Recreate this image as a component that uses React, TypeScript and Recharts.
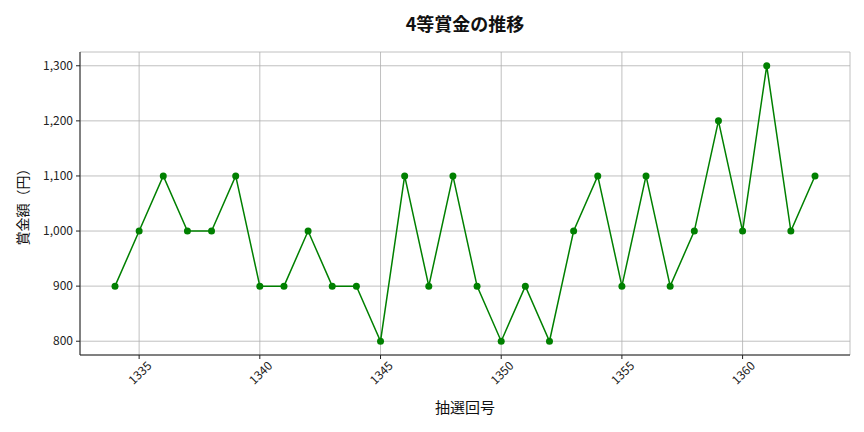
import { CartesianGrid, Label, Line, LineChart, XAxis, YAxis } from "recharts"

const draws = [1334, 1335, 1336, 1337, 1338, 1339, 1340, 1341, 1342, 1343, 1344, 1345, 1346, 1347, 1348, 1349, 1350, 1351, 1352, 1353, 1354, 1355, 1356, 1357, 1358, 1359, 1360, 1361, 1362, 1363]
const prizes = [900, 1000, 1100, 1000, 1000, 1100, 900, 900, 1000, 900, 900, 800, 1100, 900, 1100, 900, 800, 900, 800, 1000, 1100, 900, 1100, 900, 1000, 1200, 1000, 1300, 1000, 1100]
const xTicks = [1335, 1340, 1345, 1350, 1355, 1360]
const yTicks = [800, 900, 1000, 1100, 1200, 1300]

const FONT = "'Noto Sans CJK JP', 'Noto Sans', sans-serif"
const INK = "#222"

const data = draws.map((d, i) => ({ draw: d, prize: prizes[i] }))

function RotatedTick({ x, y, payload }: any) {
  return (
    <g transform={`translate(${x},${y + 11})`}>
      <text
        transform="rotate(-45)"
        textAnchor="middle"
        dominantBaseline="central"
        fontSize={12}
        fontFamily={FONT}
        fill={INK}
      >
        {payload.value}
      </text>
    </g>
  )
}

export default function App() {
  return (
    <div style={{ position: "absolute", left: 0, top: 0, width: 864, height: 432, background: "#fff" }}>
      <div
        style={{
          position: "absolute",
          left: 80,
          width: 770,
          top: 10,
          textAlign: "center",
          fontFamily: FONT,
          fontWeight: 700,
          fontSize: 18,
          color: "#111",
        }}
      >
        4等賞金の推移
      </div>
      <LineChart width={864} height={432} data={data} margin={{ top: 52, right: 14, bottom: 27, left: 20 }}>
        <CartesianGrid stroke="#b0b0b0" strokeWidth={0.8} />
        <XAxis
          dataKey="draw"
          type="number"
          domain={[1332.55, 1364.45]}
          ticks={xTicks}
          allowDataOverflow
          height={50}
          tickSize={4}
          tickMargin={2}
          stroke={INK}
          tick={<RotatedTick />}
        >
          <Label value="抽選回号" position="insideBottom" offset={-8} style={{ fontFamily: FONT, fontSize: 15, fill: "#111" }} />
        </XAxis>
        <XAxis xAxisId="top" orientation="top" dataKey="draw" type="number" domain={[1332.55, 1364.45]} height={0} tick={false} tickLine={false} stroke={INK} />
        <YAxis
          type="number"
          domain={[775, 1325]}
          ticks={yTicks}
          allowDataOverflow
          width={60}
          tickSize={4}
          tickMargin={3}
          stroke={INK}
          tick={{ fontSize: 12, fontFamily: FONT, fill: INK }}
          tickFormatter={(v: number) => v.toLocaleString("en-US")}
        >
          <Label
            value="賞金額（円）"
            angle={-90}
            position="insideLeft"
            offset={3}
            style={{ fontFamily: FONT, fontSize: 14, fill: "#111", textAnchor: "middle" }}
          />
        </YAxis>
        <YAxis yAxisId="right" orientation="right" domain={[775, 1325]} width={0} tick={false} tickLine={false} stroke={INK} />
        <Line
          dataKey="prize"
          stroke="#008000"
          strokeWidth={1.5}
          dot={{ r: 3.5, fill: "#008000", stroke: "#008000", strokeWidth: 0 }}
          activeDot={false}
          isAnimationActive={false}
        />
      </LineChart>
    </div>
  )
}
